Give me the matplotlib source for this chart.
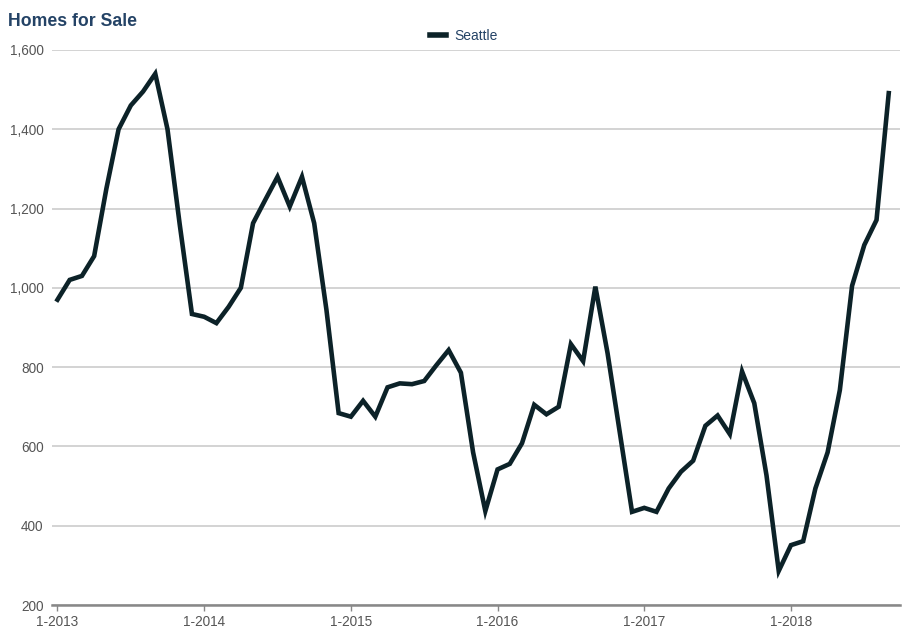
import numpy as np
import matplotlib.pyplot as plt

plt.rcParams['font.family'] = ['Liberation Sans', 'DejaVu Sans']

# monthly homes for sale, Jan 2013 .. Sep 2018
seattle = [
    970, 1020, 1030, 1080, 1250, 1400, 1460, 1495, 1540, 1400, 1160, 934,
    927, 911, 952, 1000, 1163, 1222, 1280, 1205, 1280, 1163, 945, 684,
    675, 715, 675, 749, 759, 757, 765, 805, 843, 786, 585, 437,
    542, 556, 608, 705, 681, 700, 858, 815, 1003, 835, 635, 435,
    445, 435, 494, 536, 564, 652, 678, 631, 789, 709, 527, 286,
    351, 361, 494, 585, 742, 1005, 1108, 1171, 1491,
]
tick_labels = ['1-2013', '1-2014', '1-2015', '1-2016', '1-2017', '1-2018']
y_ticks = [200, 400, 600, 800, 1000, 1200, 1400, 1600]

months = np.arange(len(seattle))

fig = plt.figure(figsize=(9.07, 6.32), dpi=100)
ax = fig.add_axes([0.0573, 0.0427, 0.9347, 0.8783])

ax.plot(months, seattle, color='#0c2228', lw=3.3, solid_joinstyle='miter',
        label='Seattle', zorder=3)

ax.set_xlim(-0.45, 68.9)
ax.set_ylim(200, 1600)
ax.set_yticks(y_ticks)
ax.set_yticklabels([f'{v:,}' for v in y_ticks])
ax.set_xticks(np.arange(0, 72, 12))
ax.set_xticklabels(tick_labels)

ax.grid(axis='y', color='#cccccc', lw=1.2)
ax.set_axisbelow(True)
for s in ['top', 'right', 'left']:
    ax.spines[s].set_visible(False)
ax.spines['bottom'].set_color('#888888')
ax.spines['bottom'].set_linewidth(1.8)
ax.spines['bottom'].set_zorder(4)

ax.tick_params(axis='y', length=0, pad=6, labelsize=9.8, labelcolor='#555555')
ax.tick_params(axis='x', length=4, width=1, color='#888888', pad=3,
               labelsize=9.8, labelcolor='#555555')

fig.text(0.009, 0.98, 'Homes for Sale', fontsize=12.7, fontweight='bold',
         color='#244366', ha='left', va='top')

leg = ax.legend(loc='upper center', bbox_to_anchor=(0.486, 1.06), frameon=False,
                fontsize=10, handlelength=1.1, handletextpad=0.6)
for t in leg.get_texts():
    t.set_color('#244366')
for h in leg.get_lines():
    h.set_linewidth(4)

fig.savefig('out.png', dpi=100)
